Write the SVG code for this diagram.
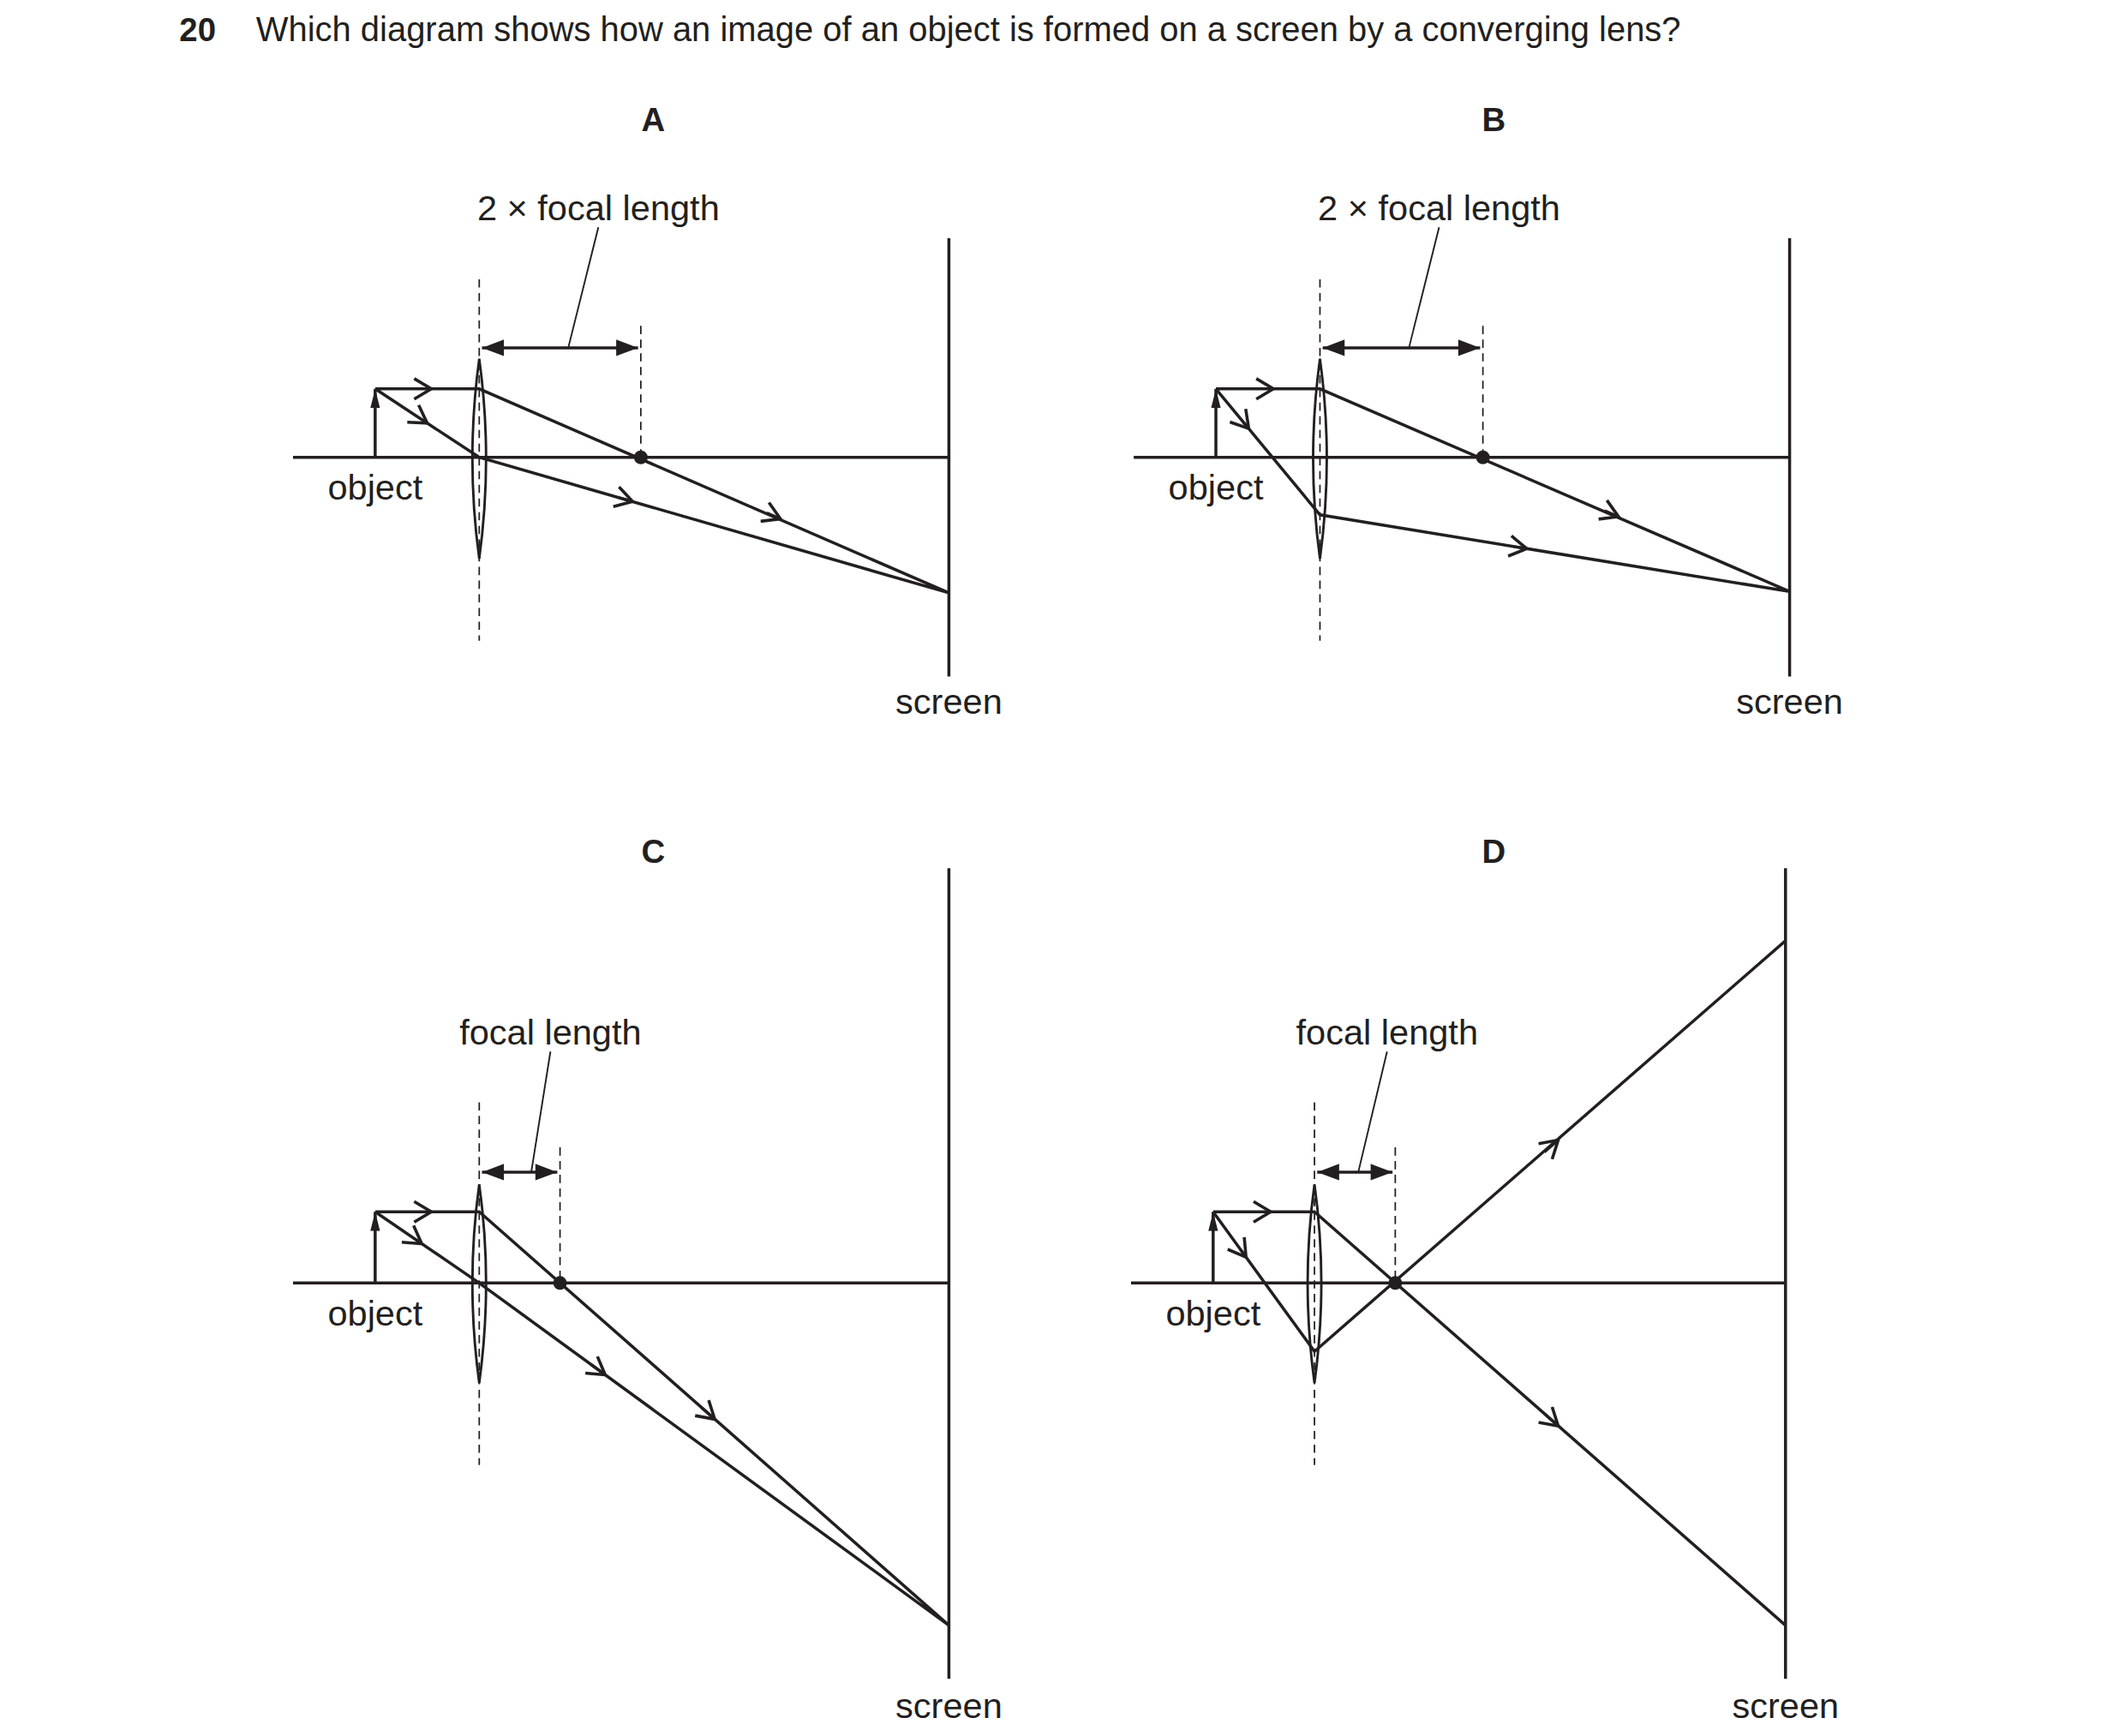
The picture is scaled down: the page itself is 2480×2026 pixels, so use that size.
<svg xmlns="http://www.w3.org/2000/svg" width="2480" height="2026" viewBox="0 0 2480 2026">
<style>
.l{stroke:#231f20;stroke-width:2.2;fill:none}
.d{stroke:#231f20;stroke-width:1.1;stroke-dasharray:6 4;fill:none}
.t{font-family:"Liberation Sans",Arial,sans-serif;font-size:26px;fill:#231f20}
.b{font-family:"Liberation Sans",Arial,sans-serif;font-size:24px;font-weight:bold;fill:#231f20}
.c{stroke:#231f20;stroke-width:2;fill:none}
</style>
<defs>
<marker id="chev" markerUnits="userSpaceOnUse" markerWidth="20" markerHeight="20" viewBox="-12 -8 14 16" refX="0" refY="0" orient="auto"><path d="M-10,-6 L0,0 L-10,6" stroke="#231f20" stroke-width="1.8" fill="none"/></marker>
<marker id="dh" markerUnits="userSpaceOnUse" markerWidth="20" markerHeight="14" viewBox="-16 -7 16 14" refX="0" refY="0" orient="auto-start-reverse"><path d="M-16,-6 L0,0 L-16,6 Z" fill="#231f20"/></marker>
<marker id="oh" markerUnits="userSpaceOnUse" markerWidth="14" markerHeight="26" viewBox="-24 -7 24 14" refX="0" refY="0" orient="auto"><path d="M-24,-6 L0,0 L-24,6 Z" fill="#231f20"/></marker>
</defs>
<rect width="2480" height="2026" fill="#fff"/>
<g transform="scale(1.598)">
<g id="title">
<text class="b" x="131" y="30">20</text>
<text class="t" x="187" y="30" style="font-size:25px">Which diagram shows how an image of an object is formed on a screen by a converging lens?</text>
</g>
<g id="diagramA">
<text class="b" x="477" y="96" text-anchor="middle">A</text>
<text class="t" x="437" y="161" text-anchor="middle">2 × focal length</text>
<path class="c" d="M437,166 L415,254" style="stroke-width:1.2"/>
<path class="d" d="M350,204 V468 M468,238 V334"/>
<path class="l" d="M214,334 H693 M693,174 V494"/>
<path class="l" d="M352,254 H466" marker-start="url(#dh)" marker-end="url(#dh)"/>
<path class="l" d="M274,334 V284" marker-end="url(#oh)"/>
<path class="l" d="M350,262 Q360,335 350,408 Q340,335 350,262Z" style="stroke-width:1.8"/>
<path class="l" d="M274,284 H350 L693,433 M274,284 L350,334 L693,433"/>
<circle cx="468" cy="334" r="5" fill="#231f20"/>
<path class="c" d="M313,284 L315,284" marker-end="url(#chev)"/>
<path class="c" d="M310.5,308 L312,309" marker-end="url(#chev)"/>
<path class="c" d="M452,363.4 L462,366.3" marker-end="url(#chev)"/>
<path class="c" d="M560,374.5 L570,378.9" marker-end="url(#chev)"/>
<text class="t" x="274" y="365" text-anchor="middle">object</text>
<text class="t" x="693" y="521" text-anchor="middle">screen</text>
</g>
<g id="diagramB">
<text class="b" x="1091" y="96" text-anchor="middle">B</text>
<text class="t" x="1051" y="161" text-anchor="middle">2 × focal length</text>
<path class="c" d="M1051,166 L1029,254" style="stroke-width:1.2"/>
<path class="d" d="M964,204 V468 M1083,238 V334"/>
<path class="l" d="M828,334 H1307 M1307,174 V494"/>
<path class="l" d="M966,254 H1081" marker-start="url(#dh)" marker-end="url(#dh)"/>
<path class="l" d="M888,334 V284" marker-end="url(#oh)"/>
<path class="l" d="M964,262 Q974,335 964,408 Q954,335 964,262Z" style="stroke-width:1.8"/>
<path class="l" d="M888,284 H964 L1307,432 M888,284 L964,376 L1307,432"/>
<circle cx="1083" cy="334" r="5" fill="#231f20"/>
<path class="c" d="M928,284 L930,284" marker-end="url(#chev)"/>
<path class="c" d="M908,308.2 L912,313" marker-end="url(#chev)"/>
<path class="c" d="M1105,399.1 L1115,400.7" marker-end="url(#chev)"/>
<path class="c" d="M1172,372.9 L1182,377.3" marker-end="url(#chev)"/>
<text class="t" x="888" y="365" text-anchor="middle">object</text>
<text class="t" x="1307" y="521" text-anchor="middle">screen</text>
</g>
<g id="diagramC">
<text class="b" x="477" y="630" text-anchor="middle">C</text>
<text class="t" x="402" y="763" text-anchor="middle">focal length</text>
<path class="c" d="M402,768 L388,856" style="stroke-width:1.2"/>
<path class="d" d="M350,805 V1070 M409,838 V937"/>
<path class="l" d="M214,937 H693 M693,634 V1226"/>
<path class="l" d="M352,856 H407" marker-start="url(#dh)" marker-end="url(#dh)"/>
<path class="l" d="M274,937 V885" marker-end="url(#oh)"/>
<path class="l" d="M350,865 Q360,937 350,1010 Q340,937 350,865Z" style="stroke-width:1.8"/>
<path class="l" d="M274,885 H350 L693,1187 M274,885 L350,937 L693,1187"/>
<circle cx="409" cy="937" r="5" fill="#231f20"/>
<path class="c" d="M313,885 L315,885" marker-end="url(#chev)"/>
<path class="c" d="M304,905.5 L308,908.3" marker-end="url(#chev)"/>
<path class="c" d="M432,996.8 L442,1004.1" marker-end="url(#chev)"/>
<path class="c" d="M512,1027.7 L522,1036.5" marker-end="url(#chev)"/>
<text class="t" x="274" y="968" text-anchor="middle">object</text>
<text class="t" x="693" y="1255" text-anchor="middle">screen</text>
</g>
<g id="diagramD">
<text class="b" x="1091" y="630" text-anchor="middle">D</text>
<text class="t" x="1013" y="763" text-anchor="middle">focal length</text>
<path class="c" d="M1013,768 L992,856" style="stroke-width:1.2"/>
<path class="d" d="M960,805 V1070 M1019,838 V937"/>
<path class="l" d="M826,937 H1304 M1304,634 V1226"/>
<path class="l" d="M962,856 H1017" marker-start="url(#dh)" marker-end="url(#dh)"/>
<path class="l" d="M886,937 V885" marker-end="url(#oh)"/>
<path class="l" d="M960,865 Q970,937 960,1010 Q950,937 960,865Z" style="stroke-width:1.8"/>
<path class="l" d="M886,885 H960 L1304,1187 M886,885 L960,987 L1304,687"/>
<circle cx="1019" cy="937" r="5" fill="#231f20"/>
<path class="c" d="M926,885 L928,885" marker-end="url(#chev)"/>
<path class="c" d="M906,912.6 L910,918.1" marker-end="url(#chev)"/>
<path class="c" d="M1128,841.4 L1138,832.6" marker-end="url(#chev)"/>
<path class="c" d="M1128,1032.6 L1138,1041.4" marker-end="url(#chev)"/>
<text class="t" x="886" y="968" text-anchor="middle">object</text>
<text class="t" x="1304" y="1255" text-anchor="middle">screen</text>
</g>
</g>
</svg>
